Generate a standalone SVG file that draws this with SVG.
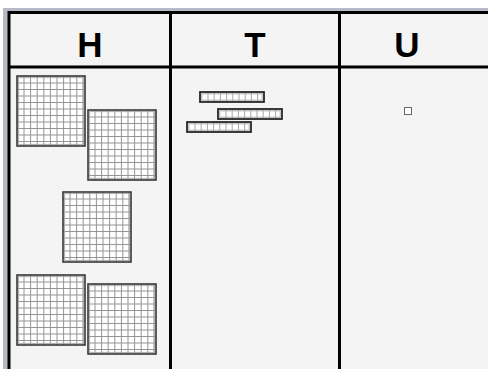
<svg xmlns="http://www.w3.org/2000/svg" width="488" height="369" viewBox="0 0 488 369">
<style>
.hdr{font-family:"Liberation Sans",Arial,sans-serif;font-weight:bold;font-size:35px;fill:#000;text-anchor:middle}
.ln{stroke:#000;stroke-width:3;fill:none}
.gl{stroke:#959595;stroke-width:1;fill:none}
.bx{fill:none;stroke:#2a2a2a;stroke-width:1.5}
.bxi{fill:none;stroke:#aaa;stroke-width:1}
</style>
<defs>
<symbol id="box" overflow="visible">
<rect x="0" y="0" width="68" height="70" fill="#fff"/>
<path class="gl" d="M7 0V70M13.6 0V70M20.2 0V70M26.8 0V70M33.4 0V70M40 0V70M46.6 0V70M53.2 0V70M59.8 0V70M66 0V70M0 7H68M0 13.5H68M0 20H68M0 26.5H68M0 33H68M0 39.5H68M0 46H68M0 52.5H68M0 59H68M0 65.5H68"/>
<rect x="1.6" y="1.6" width="64.8" height="66.8" class="bxi"/>
<rect x="0" y="0" width="68" height="70" class="bx"/>
</symbol>
<symbol id="bar" overflow="visible">
<rect x="0" y="0" width="64" height="10" fill="#fff"/>
<path d="M8 0V10M14.2 0V10M20.4 0V10M26.6 0V10M32.8 0V10M39 0V10M45.2 0V10M51.4 0V10M57.6 0V10" stroke="#a8a8a8" stroke-width="1"/>
<rect x="1.8" y="1.8" width="60.4" height="6.4" class="bxi"/>
<rect x="0" y="0" width="64" height="10" fill="none" stroke="#1a1a1a" stroke-width="1.7"/>
</symbol>
</defs>
<rect width="488" height="369" fill="#fff"/>
<rect x="3" y="8" width="485" height="361" fill="#b6bac6"/>
<rect x="8" y="11" width="480" height="358" fill="#f4f4f4"/>
<g id="frame">
<path d="M8 12.5H488M9 11V369M8 67H488M170.5 11V369M339.5 11V369" class="ln"/>
</g>
<g id="header-H"><text x="90" y="57" class="hdr">H</text></g>
<g id="header-T"><text x="255" y="57" class="hdr">T</text></g>
<g id="header-U"><text x="407" y="57" class="hdr">U</text></g>
<g id="H-box1"><use href="#box" x="17" y="76"/></g>
<g id="H-box2"><use href="#box" x="88" y="110"/></g>
<g id="H-box3"><use href="#box" x="63" y="192"/></g>
<g id="H-box4"><use href="#box" x="17" y="275"/></g>
<g id="H-box5"><use href="#box" x="88" y="284"/></g>
<g id="T-bar1"><use href="#bar" x="200" y="92"/></g>
<g id="T-bar2"><use href="#bar" x="218" y="109"/></g>
<g id="T-bar3"><use href="#bar" x="187" y="122"/></g>
<g id="U-item"><rect x="404.5" y="107.5" width="7" height="7" fill="#fff" stroke="#666" stroke-width="1"/></g>
<g id="connectors"/>
</svg>
